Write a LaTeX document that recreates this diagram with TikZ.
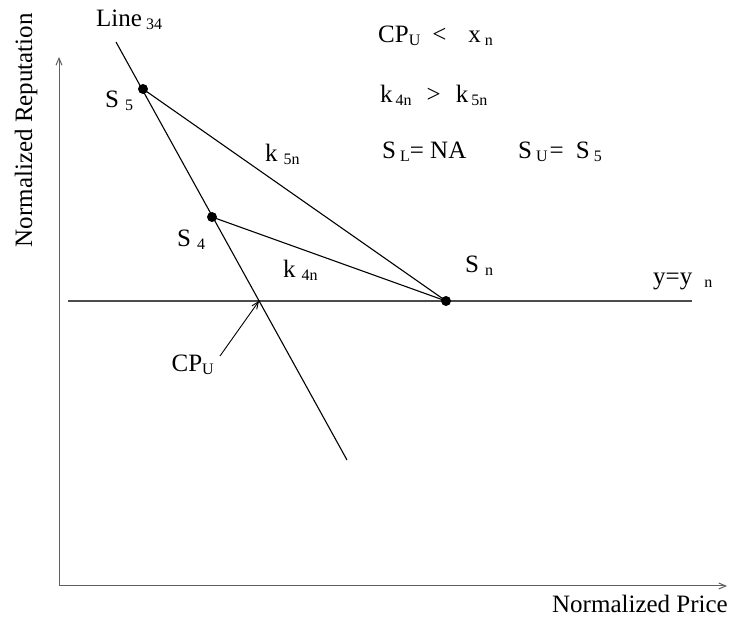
\documentclass[tikz,border=0pt]{standalone}
\usepackage{fontspec}
\setmainfont{Liberation Serif}
\usetikzlibrary{positioning,arrows.meta}
\newcommand{\sbs}[1]{{\fontsize{16}{16}\selectfont\raisebox{-3pt}{#1}}}

\begin{document}
\begin{tikzpicture}[x=1pt, y=1pt,
        >={Straight Barb[length=7pt, width=6pt]},
        lbl/.style={inner sep=0pt, anchor=base west, font=\fontsize{25}{29}\selectfont},
        dot/.style={circle, fill=black, inner sep=0pt, minimum size=10pt},
        axis/.style={->, gray!75!black, line width=1pt},
        line/.style={black, line width=1.1pt}
    ]
        \useasboundingbox (0,0) rectangle (730,620);

        % axes
        \coordinate (origin) at (59,34);
        \coordinate (ytop) at (59,563);
        \coordinate (xend) at (727,34);
        \draw[axis] (origin) -- (ytop);
        \draw[axis] (origin) -- (xend);
        \node[lbl, anchor=base east] (xlbl) at (728,7) {Normalized Price};
        \node[lbl, anchor=base east, rotate=90] (ylbl) at (32,607) {Normalized Reputation};

        % y = y_n
        \coordinate (ynl) at (68,319);
        \coordinate (ynr) at (692,319);
        \draw[gray!60!black, line width=1.1pt] (ynl) -- (ynr);
        \node[lbl] (ynlbl) at (653,335) {y=y\hspace{12pt}\sbs{n}};

        % line 34 and points
        \coordinate (l34top) at (116,578);
        \coordinate (l34bot) at (347,160);
        \coordinate (cpu) at (259,319);
        \coordinate (cputail) at (220,264);
        \node[dot] (s5) at (143,531) {};
        \node[dot] (s4) at (212,403) {};
        \node[dot] (sn) at (446,319) {};
        \draw[line] (l34top) -- (l34bot);
        \draw[line] (s5.center) -- (sn.center);
        \draw[line] (s4.center) -- (sn.center);
        \draw[->, line width=0.9pt] (cputail) -- (cpu);

        % labels
        \node[lbl] (l34lbl) at (96,593) {Line\,\sbs{34}};
        \node[lbl] (s5lbl) at (105,512) {S\hspace{6pt}\sbs{5}};
        \node[lbl] (s4lbl) at (177,373) {S\hspace{6pt}\sbs{4}};
        \node[lbl] (k4lbl) at (283,342) {k\hspace{6pt}\sbs{4n}};
        \node[lbl] (k5lbl) at (265,458) {k\hspace{6pt}\sbs{5n}};
        \node[lbl] (snlbl) at (465,347) {S\hspace{6pt}\sbs{n}};
        \node[lbl, anchor=base east] (cpulbl) at (214,248) {CP\sbs{U}};

        % conditions
        \node[lbl] (cond1) at (378,577) {CP\sbs{U}\hspace{12pt}<\hspace{22pt}x\hspace{4pt}\sbs{n}};
        \node[lbl] (cond2) at (380,517) {k\hspace{3pt}\sbs{4n}\hspace{15pt}>\hspace{15pt}k\hspace{3pt}\sbs{5n}};
        \node[lbl] (cond3) at (382,461) {S\hspace{4pt}\sbs{L}= NA};
        \node[lbl] (cond4) at (518,461) {S\hspace{4pt}\sbs{U}\hspace{2pt}= \hspace{6pt}S\hspace{4pt}\sbs{5}};
    \end{tikzpicture}
\end{document}
